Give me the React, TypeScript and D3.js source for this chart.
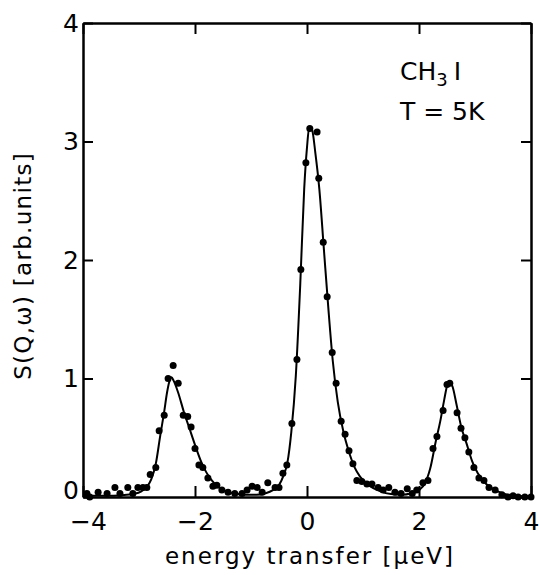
import React, { useEffect, useRef } from 'react'
import * as d3 from 'd3'

// measured points (energy transfer, S(Q,w))
const pointX = [-3.93, -3.88, -3.73, -3.57, -3.43, -3.34, -3.2, -3.11, -3.02, -2.93, -2.86, -2.8, -2.7, -2.64, -2.55, -2.48, -2.39, -2.3, -2.21, -2.13, -2.07, -2.0, -1.93, -1.86, -1.77, -1.68, -1.61, -1.52, -1.41, -1.29, -1.16, -1.07, -0.98, -0.89, -0.8, -0.7, -0.57, -0.5, -0.43, -0.36, -0.27, -0.18, -0.11, -0.02, 0.05, 0.18, 0.21, 0.29, 0.36, 0.45, 0.52, 0.61, 0.68, 0.75, 0.82, 0.89, 0.98, 1.07, 1.16, 1.27, 1.36, 1.46, 1.57, 1.68, 1.79, 1.88, 1.96, 2.07, 2.16, 2.25, 2.32, 2.43, 2.5, 2.55, 2.68, 2.75, 2.82, 2.89, 2.98, 3.07, 3.16, 3.25, 3.36, 3.48, 3.59, 3.68, 3.77, 3.89, 4.0]
const pointY = [0.03, 0.0, 0.04, 0.03, 0.08, 0.03, 0.08, 0.03, 0.08, 0.08, 0.08, 0.19, 0.25, 0.56, 0.69, 1.0, 1.11, 0.96, 0.69, 0.68, 0.59, 0.41, 0.27, 0.25, 0.16, 0.09, 0.1, 0.06, 0.04, 0.03, 0.03, 0.06, 0.09, 0.08, 0.04, 0.12, 0.08, 0.08, 0.2, 0.27, 0.62, 1.16, 1.92, 2.82, 3.11, 3.08, 2.69, 2.15, 1.69, 1.22, 0.96, 0.64, 0.53, 0.39, 0.28, 0.14, 0.13, 0.11, 0.11, 0.08, 0.06, 0.08, 0.04, 0.03, 0.07, 0.03, 0.06, 0.12, 0.14, 0.41, 0.51, 0.73, 0.95, 0.96, 0.71, 0.58, 0.5, 0.38, 0.25, 0.16, 0.14, 0.08, 0.06, 0.02, 0.0, 0.01, 0.0, 0.0, 0.0]

// fitted curve
const fitX = [-4, -3.6, -3.3, -3.1, -2.95, -2.85, -2.78, -2.7, -2.62, -2.55, -2.5, -2.46, -2.42, -2.38, -2.3, -2.2, -2.1, -2.0, -1.9, -1.8, -1.7, -1.6, -1.45, -1.3, -1.1, -0.9, -0.75, -0.6, -0.5, -0.42, -0.35, -0.28, -0.2, -0.12, -0.05, 0.0, 0.04, 0.09, 0.15, 0.22, 0.3, 0.38, 0.46, 0.55, 0.65, 0.75, 0.85, 0.95, 1.1, 1.3, 1.5, 1.7, 1.85, 2.0, 2.1, 2.2, 2.3, 2.38, 2.45, 2.51, 2.55, 2.6, 2.67, 2.75, 2.85, 2.95, 3.05, 3.2, 3.35, 3.5, 3.7, 4.0]
const fitY = [0.01, 0.01, 0.015, 0.025, 0.05, 0.09, 0.15, 0.28, 0.52, 0.72, 0.88, 0.97, 1.01, 0.98, 0.88, 0.72, 0.58, 0.44, 0.31, 0.21, 0.14, 0.09, 0.05, 0.03, 0.02, 0.02, 0.03, 0.06, 0.1, 0.18, 0.29, 0.55, 1.02, 1.8, 2.6, 2.95, 3.12, 3.1, 2.9, 2.6, 2.1, 1.6, 1.15, 0.8, 0.55, 0.38, 0.25, 0.17, 0.1, 0.05, 0.025, 0.02, 0.03, 0.06, 0.11, 0.24, 0.47, 0.64, 0.82, 0.95, 0.97, 0.93, 0.78, 0.6, 0.45, 0.3, 0.2, 0.11, 0.06, 0.03, 0.01, 0.005]

const xTicks = [-4, -2, 0, 2, 4]
const yTicks = [0, 1, 2, 3, 4]

const FONT = '"DejaVu Sans", sans-serif'

const App = () => {
    const width = 539
    const height = 575
    const margin = { top: 23, right: 8, bottom: 78, left: 83 }
    const svgRef = useRef(null)

    useEffect(() => {
        if (!svgRef.current) return
        const svg = d3.select(svgRef.current)
        svg.selectAll('*').remove()

        const x = d3.scaleLinear().domain([-4, 4]).range([margin.left, width - margin.right])
        const y = d3.scaleLinear().domain([0, 4]).range([height - margin.bottom, margin.top])

        const styleAxis = (g) => {
            g.select('.domain').attr('stroke-width', 2.5)
            g.selectAll('.tick line').attr('stroke-width', 2)
            g.selectAll('text').attr('font-family', FONT).attr('font-size', 25).attr('fill', '#000')
        }

        const bottom = svg.append('g')
            .attr('transform', `translate(0,${y(0)})`)
            .call(d3.axisBottom(x).tickValues(xTicks).tickSizeInner(-11).tickSizeOuter(0).tickPadding(15).tickFormat(d3.format('d')))
            .call(styleAxis)
        // first label sits a little right of the corner, as in the original
        bottom.selectAll('.tick text').filter((d) => d === -4).attr('dx', 5)

        svg.append('g')
            .attr('transform', `translate(0,${y(4)})`)
            .call(d3.axisTop(x).tickValues(xTicks).tickSizeInner(-11).tickSizeOuter(0).tickFormat(() => ''))
            .call(styleAxis)

        const left = svg.append('g')
            .attr('transform', `translate(${x(-4)},0)`)
            .call(d3.axisLeft(y).tickValues(yTicks).tickSizeInner(-10).tickSizeOuter(0).tickPadding(4).tickFormat(d3.format('d')))
            .call(styleAxis)
        left.selectAll('.tick text').filter((d) => d === 0).attr('dy', '0.05em')

        svg.append('g')
            .attr('transform', `translate(${x(4)},0)`)
            .call(d3.axisRight(y).tickValues(yTicks).tickSizeInner(-10).tickSizeOuter(0).tickFormat(() => ''))
            .call(styleAxis)

        const fit = fitX.map((v, i) => [v, fitY[i]])
        const line = d3.line()
            .x((d) => x(d[0]))
            .y((d) => y(d[1]))
            .curve(d3.curveMonotoneX)

        svg.append('path')
            .datum(fit)
            .attr('d', line)
            .attr('fill', 'none')
            .attr('stroke', '#000')
            .attr('stroke-width', 2)

        svg.selectAll('.dot')
            .data(pointX.map((v, i) => [v, pointY[i]]))
            .join('circle')
            .attr('class', 'dot')
            .attr('cx', (d) => x(d[0]))
            .attr('cy', (d) => y(d[1]))
            .attr('r', 3.5)
            .attr('fill', '#000')

        svg.append('text')
            .attr('x', (margin.left + width - margin.right) / 2 + 3)
            .attr('y', 564)
            .attr('text-anchor', 'middle')
            .attr('font-family', FONT)
            .attr('font-size', 23)
            .attr('letter-spacing', 2)
            .text('energy transfer [μeV]')

        svg.append('text')
            .attr('transform', `translate(31,${y(1.95)}) rotate(-90)`)
            .attr('text-anchor', 'middle')
            .attr('font-family', FONT)
            .attr('font-size', 23)
            .attr('letter-spacing', 1.3)
            .text('S(Q,ω) [arb.units]')

        const label = svg.append('text')
            .attr('x', 400)
            .attr('y', 80)
            .attr('font-family', FONT)
            .attr('font-size', 25)
        label.append('tspan').text('CH')
        label.append('tspan').attr('font-size', 18).attr('dy', 6).text('3')
        label.append('tspan').attr('dy', -6).attr('dx', 6).text('I')

        svg.append('text')
            .attr('x', 400)
            .attr('y', 120)
            .attr('font-family', FONT)
            .attr('font-size', 25)
            .text('T = 5K')
    }, [])

    return (
        <svg ref={svgRef} width={width} height={height}
            style={{ position: 'absolute', left: 0, top: 0, background: '#fff' }} />
    )
}

export default App
